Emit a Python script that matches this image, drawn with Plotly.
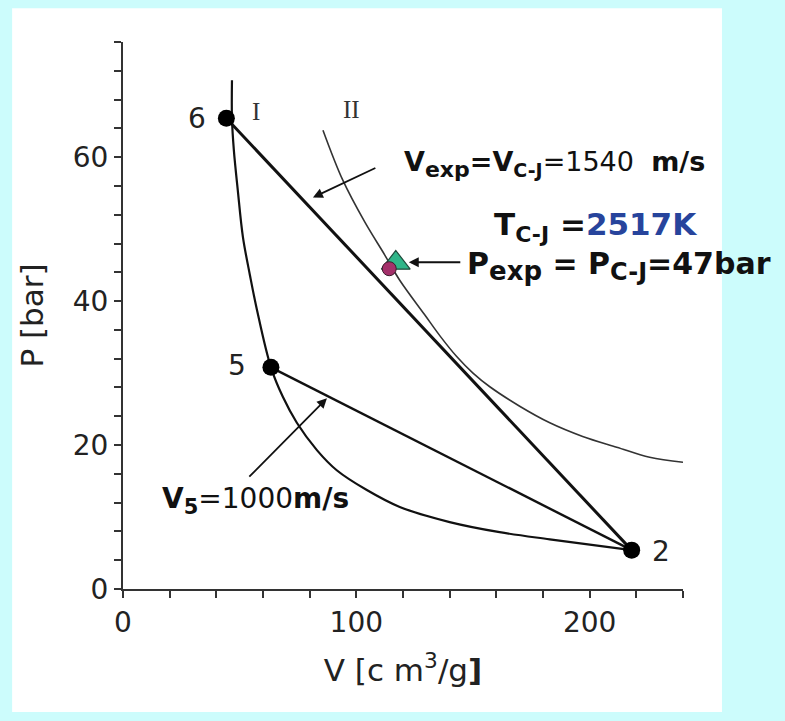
import plotly.graph_objects as go

# ---- data ----
curve1_v = [46.7, 46.7, 47.5, 49.2, 51.4, 54.4, 57.4, 63.4, 68.5, 74.5, 83.1, 91.6, 104.5, 118.6, 140.0, 161.4, 182.9, 218.0]
curve1_p = [70.7, 65.4, 61.0, 55.4, 48.9, 43.6, 38.8, 30.8, 26.7, 23.1, 19.3, 16.5, 13.75, 11.4, 9.3, 7.9, 6.9, 5.4]

curve2_v = [85.7, 94.2, 103.6, 112.2, 118.6, 129.3, 136.0, 143.0, 150.0, 157.2, 170.0, 182.9, 197.0, 211.6, 225.7, 240.0]
curve2_p = [63.75, 56.8, 51.0, 46.4, 42.9, 38.1, 35.1, 32.3, 30.0, 28.1, 25.4, 23.1, 21.2, 19.7, 18.3, 17.6]

state_labels = ["6", "5", "2"]
state_v = [44.3, 63.4, 218.0]
state_p = [65.4, 30.8, 5.4]

cj_circle_v, cj_circle_p = [114.1], [44.5]
cj_tri_v, cj_tri_p = [116.9], [45.3]

x_ticks = [0, 100, 200]
y_ticks = [0, 20, 40, 60]

# ---- figure ----
fig = go.Figure()

AX = "#333333"
FONT = "DejaVu Sans, Verdana, sans-serif"
SERIF = "Liberation Serif, DejaVu Serif, serif"

fig.add_trace(go.Scatter(x=curve1_v, y=curve1_p, mode="lines",
                         line=dict(color="#111111", width=2.2, shape="spline", smoothing=1.0),
                         hoverinfo="skip"))
fig.add_trace(go.Scatter(x=curve2_v, y=curve2_p, mode="lines",
                         line=dict(color="#333333", width=1.6, shape="spline", smoothing=1.0),
                         hoverinfo="skip"))
# Rayleigh lines 6-2 and 5-2
fig.add_trace(go.Scatter(x=[state_v[0], state_v[2]], y=[state_p[0], state_p[2]], mode="lines",
                         line=dict(color="#111111", width=3), hoverinfo="skip"))
fig.add_trace(go.Scatter(x=[state_v[1], state_v[2]], y=[state_p[1], state_p[2]], mode="lines",
                         line=dict(color="#111111", width=2.4), hoverinfo="skip"))
# state points
fig.add_trace(go.Scatter(x=state_v, y=state_p, mode="markers",
                         marker=dict(color="black", size=17), hoverinfo="skip"))
# C-J experimental points
fig.add_trace(go.Scatter(x=cj_tri_v, y=cj_tri_p, mode="markers",
                         marker=dict(symbol="triangle-up", color="#2fb588", size=25,
                                     line=dict(color="#1d4a3a", width=1.2)), hoverinfo="skip"))
fig.add_trace(go.Scatter(x=cj_circle_v, y=cj_circle_p, mode="markers",
                         marker=dict(symbol="circle", color="#a3306a", size=14,
                                     line=dict(color="#3a1a2a", width=1)), hoverinfo="skip"))

ann = []
# state labels
lab_pos = {"6": (31.5, 65.4), "5": (48.8, 31.1), "2": (230.5, 5.2)}
for s in state_labels:
    ann.append(dict(x=lab_pos[s][0], y=lab_pos[s][1], text=s, showarrow=False,
                    font=dict(family=FONT, size=28, color="#222222")))
# roman numerals
ann.append(dict(x=57.0, y=66.4, text="I", showarrow=False,
                font=dict(family=SERIF, size=25, color="#333333")))
ann.append(dict(x=98.0, y=66.6, text="II", showarrow=False,
                font=dict(family=SERIF, size=25, color="#333333")))

# arrows
arrow_style = dict(showarrow=True, arrowhead=2, arrowsize=1.1, arrowwidth=1.8,
                   arrowcolor="#111111", axref="x", ayref="y", text="")
ann.append(dict(x=81.4, y=54.4, ax=108.8, ay=58.6, **arrow_style))
ann.append(dict(x=122.5, y=45.4, ax=145.2, ay=45.4, **arrow_style))
ann.append(dict(x=87.4, y=26.5, ax=53.5, ay=15.4, **arrow_style))


def sub(t, px):
    return "<sub><span style='font-size:%dpx'>%s</span></sub>" % (px, t)


# text labels
ann.append(dict(x=119.5, y=59.0, xanchor="left", yanchor="middle", showarrow=False,
                text="<b>V" + sub("exp", 22) + "=V" + sub("C-J", 19) + "</b>=1540  <b>m/s</b>",
                font=dict(family=FONT, size=27, color="#111111")))
ann.append(dict(x=158.0, y=50.3, xanchor="left", yanchor="middle", showarrow=False,
                text="<b>T" + sub("C-J", 22) + " =<span style='color:#27449c'>2517K</span></b>",
                font=dict(family=FONT, size=31, color="#111111")))
ann.append(dict(x=146.5, y=44.9, xanchor="left", yanchor="middle", showarrow=False,
                text="<b>P" + sub("exp", 26) + " = P" + sub("C-J", 24) + "=47bar</b>",
                font=dict(family=FONT, size=30, color="#111111")))
ann.append(dict(x=16.0, y=12.3, xanchor="left", yanchor="middle", showarrow=False,
                text="<b>V" + sub("5", 21) + "</b>=1000<b>m/s</b>",
                font=dict(family=FONT, size=28, color="#111111")))

fig.update_layout(
    width=785, height=721,
    margin=dict(l=123, r=102, t=42, b=132),
    paper_bgcolor="#ccfcfc",
    plot_bgcolor="white",
    showlegend=False,
    annotations=ann,
    shapes=[dict(type="rect", xref="paper", yref="paper",
                 x0=-0.198, x1=1.0696, y0=-0.225, y1=1.0616,
                 fillcolor="white", line=dict(width=0), layer="below")],
)

fig.update_xaxes(range=[0, 240], tickvals=x_ticks, ticks="outside", ticklen=7, tickwidth=2,
                 tickcolor=AX, showline=True, linecolor=AX, linewidth=2, showgrid=False,
                 zeroline=False, tickfont=dict(family=FONT, size=28, color="#222222"),
                 minor=dict(dtick=20, tick0=0, ticks="outside", ticklen=7, tickwidth=2, tickcolor=AX,
                            showgrid=False),
                 title=dict(text="V [c m<sup>3</sup>/g<b>]</b>", standoff=22,
                            font=dict(family=FONT, size=31, color="#222222")))
fig.update_yaxes(range=[0, 76], tickvals=y_ticks, ticks="outside", ticklen=7, tickwidth=2,
                 tickcolor=AX, showline=True, linecolor=AX, linewidth=2, showgrid=False,
                 zeroline=False, tickfont=dict(family=FONT, size=28, color="#222222"),
                 minor=dict(dtick=4, tick0=0, ticks="outside", ticklen=7, tickwidth=2, tickcolor=AX,
                            showgrid=False),
                 title=dict(text="P [bar]", standoff=20,
                            font=dict(family=FONT, size=31, color="#222222")))

fig.write_html("out.html", config={"displayModeBar": False},
               post_script="document.body.style.margin='0';")
